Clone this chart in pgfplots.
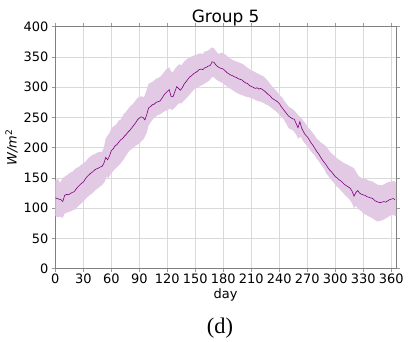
\documentclass[border=0pt]{standalone}
\usepackage{pgfplots}
\pgfplotsset{compat=1.18}
\usepgfplotslibrary{fillbetween}
\usepackage{pgfplotstable}
\usepackage{fontspec}
\setmainfont{DejaVu Sans}
\newfontfamily\capfont{Liberation Serif}
\definecolor{mpurple}{RGB}{128,0,128}
\definecolor{band}{RGB}{226,201,228}

\pgfplotstableread{
day mean
0 117
2 116
4 115
6 114
8 111
10 121
12 123
14 122
16 124
18 126
20 127
22 131
24 135
26 138
28 141
30 143
32 148
34 152
36 155
38 158
40 160
42 163
44 165
46 166
48 168
50 169
52 174
54 184
56 180
58 186
60 195
62 198
64 203
66 205
68 209
70 213
72 215
74 219
76 222
78 226
80 229
82 233
84 237
86 241
88 246
90 249
92 251
94 250
96 246
98 255
100 266
102 268
104 271
106 272
108 275
110 276
112 277
114 281
116 286
118 290
120 293
122 296
124 285
126 284
128 292
130 301
132 298
134 295
136 299
138 305
140 309
142 313
144 317
146 319
148 322
150 324
152 326
154 329
156 330
158 329
160 332
162 333
164 335
166 336
168 342
170 341
172 337
174 334
176 332
178 331
180 330
182 327
184 324
186 322
188 320
190 319
192 317
194 316
196 314
198 313
200 312
202 309
204 307
206 306
208 303
210 301
212 300
214 298
216 299
218 297
220 298
222 296
224 294
226 291
228 288
230 286
232 282
234 280
236 278
238 276
240 273
242 268
244 264
246 260
248 256
250 252
252 250
254 248
256 247
258 240
260 233
262 243
264 232
266 226
268 221
270 218
272 213
274 208
276 204
278 199
280 194
282 190
284 185
286 180
288 176
290 172
292 167
294 163
296 160
298 156
300 152
302 150
304 147
306 145
308 142
310 139
312 137
314 135
316 133
318 128
320 120
322 126
324 129
326 125
328 123
330 122
332 121
334 119
336 118
338 117
340 116
342 113
344 111
346 110
348 109
350 110
352 111
354 110
356 112
358 114
360 115
362 116
364 114
}\meantab

\pgfplotstableread{
day hi
0 146
3 148
5 142
8 150
10 152
13 155
15 158
18 160
20 163
23 167
25 168
28 172
30 174
33 178
35 182
38 186
40 188
43 190
45 192
48 193
50 193
52 200
54 215
56 220
58 224
60 232
63 236
65 238
68 245
70 246
73 255
75 258
78 264
80 268
83 272
85 276
88 282
90 284
93 285
95 283
98 296
100 306
103 308
105 310
108 314
110 315
113 318
115 322
118 328
120 331
122 333
124 326
126 325
128 330
130 334
133 338
135 336
138 342
140 345
143 349
145 350
148 352
150 353
153 355
155 356
158 355
160 359
163 360
165 362
168 366
170 364
173 358
175 355
178 357
180 356
183 353
185 350
188 347
190 345
193 343
195 342
198 340
200 339
203 336
205 333
208 330
210 328
213 326
215 324
218 322
220 320
223 318
225 315
228 310
230 306
233 300
235 297
238 292
240 287
243 283
245 278
248 272
250 268
253 265
255 263
258 258
260 254
263 250
265 246
268 240
270 235
273 230
275 226
278 220
280 215
283 211
285 208
288 205
290 202
293 196
295 192
298 188
300 185
303 181
305 179
308 176
310 174
313 172
315 170
318 168
320 166
323 158
325 153
328 150
330 149
333 148
335 146
338 145
340 144
343 141
345 139
348 138
350 138
353 140
355 142
358 144
360 144
363 145
365 142
}\hitab

\pgfplotstableread{
day lo
0 87
3 85
5 86
8 84
10 91
13 93
15 94
18 96
20 97
23 101
25 104
28 108
30 111
33 116
35 119
38 123
40 125
43 130
45 132
48 136
50 138
53 144
55 152
57 150
60 158
63 163
65 166
68 171
70 174
73 180
75 185
78 192
80 196
83 199
85 202
88 205
90 207
93 212
95 215
98 225
100 237
103 244
105 248
108 252
110 254
113 256
115 258
118 261
120 262
123 265
125 262
128 266
130 270
133 274
135 273
138 278
140 281
143 286
145 290
148 295
150 298
153 300
155 302
158 304
160 306
163 309
165 311
168 317
170 316
173 312
175 310
178 308
180 306
183 302
185 300
188 297
190 295
193 292
195 290
198 288
200 287
203 285
205 284
208 283
210 282
213 280
215 278
218 277
220 276
223 274
225 272
228 270
230 268
233 264
235 262
238 258
240 254
243 250
245 246
248 238
250 232
253 230
255 228
258 222
260 215
263 218
265 212
268 206
270 202
273 196
275 192
278 187
280 182
283 176
285 171
288 165
290 158
293 152
295 148
298 143
300 138
303 134
305 131
308 126
310 122
313 118
315 115
318 108
320 100
322 104
325 98
328 95
330 91
333 89
335 87
338 85
340 83
343 80
345 78
348 79
350 80
353 82
355 84
358 87
360 89
363 88
365 87
}\lotab

\begin{document}
\begin{tikzpicture}
\begin{axis}[
  scale only axis,
  width=340.7bp, height=242bp,
  at={(55.3bp,73.3bp)}, anchor=south west,
  xmin=0, xmax=365, ymin=0, ymax=400,
  xtick={0,30,...,360}, ytick={0,50,...,400},
  grid=major,
  grid style={draw=black!15, line width=0.6pt},
  axis line style={draw=black!50, line width=0.7pt},
  major tick length=3.5bp, tick align=outside,
  tick style={draw=black!40, line width=0.6pt},
  tick label style={font=\fontsize{13}{15}\selectfont},
  xticklabel style={yshift=2bp},
  /pgf/number format/assume math mode=true,
  title={Group 5},
  title style={font=\fontsize{17}{19}\selectfont, at={(0.5,1)}, anchor=base, yshift=-1.7bp},
  xlabel={day},
  xlabel style={font=\fontsize{13}{15}\selectfont, yshift=2bp},
  ylabel={{\itshape W/m}\textsuperscript{2}},
  ylabel style={font=\fontsize{13}{15}\selectfont, yshift=-1bp},
]
\addplot[name path=U, draw=none, forget plot] table[x=day, y=hi] {\hitab};
\addplot[name path=L, draw=none, forget plot] table[x=day, y=lo] {\lotab};
\addplot[band, draw=none, forget plot] fill between[of=U and L];
\addplot[mpurple, line width=0.6pt] table[x=day, y=mean] {\meantab};
\end{axis}
\node[anchor=base, font=\capfont\fontsize{22.5}{24}\selectfont] at (220bp,8.7bp) {(d)};
\pgfresetboundingbox
\path[use as bounding box] (0,0) rectangle (410bp,342bp);
\end{tikzpicture}
\end{document}
